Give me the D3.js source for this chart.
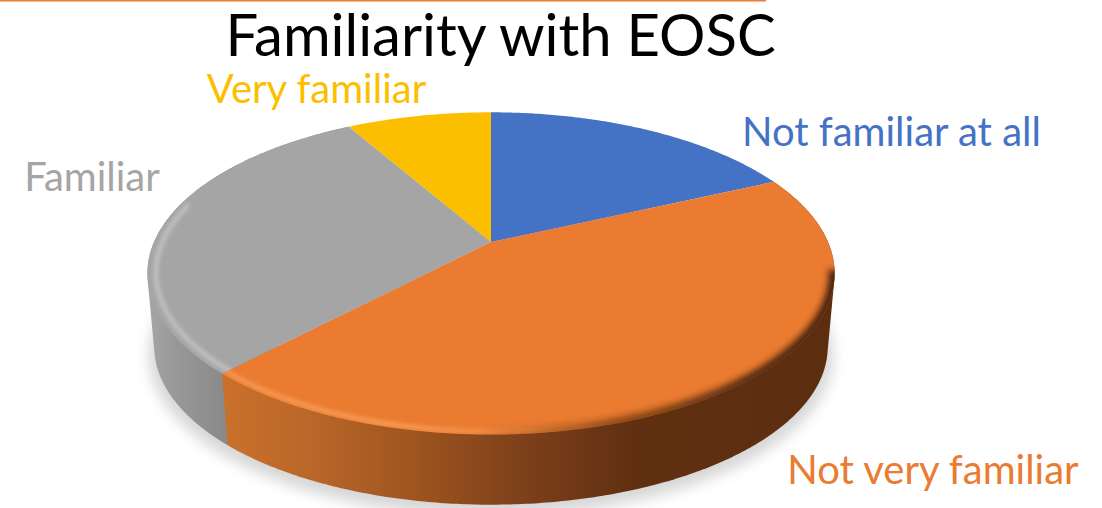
<!DOCTYPE html>
<html>
<head>
<meta charset="utf-8">
<script src="https://cdnjs.cloudflare.com/ajax/libs/d3/7.8.5/d3.min.js"></script>
<style>
  html, body { margin: 0; padding: 0; background: #fff; overflow: hidden; }
  text { font-family: Lato, "Open Sans", sans-serif; }
</style>
</head>
<body>
<div id="chart"></div>
<script>
// Values (percent of answers)
var categories = ["Not familiar at all", "Not very familiar", "Familiar", "Very familiar"];
var shares = [18.1, 43.9, 29.8, 8.2];
var colors = ["#4472C4", "#EA7B30", "#A5A5A5", "#FCBF00"];
var chartTitle = "Familiarity with EOSC";

var svgWidth = 1102;
var svgHeight = 508;

// perspective disc: apex of the pie, radii and foreshortening
var cx = 491, cy = 242, rx = 337, ry = 155, persp = 0.195;
// bottom disc of the extruded pie
var depthY = 74, depthScale = 0.98;

var svg = d3.select("#chart")
  .append("svg")
  .attr("width", svgWidth)
  .attr("height", svgHeight)
  .style("display", "block");

var defs = svg.append("defs");

function blurFilter(id, dev) {
  defs.append("filter")
    .attr("id", id)
    .attr("x", "-20%").attr("y", "-20%")
    .attr("width", "140%").attr("height", "140%")
    .append("feGaussianBlur")
    .attr("stdDeviation", dev);
}
blurFilter("soft", 2);
blurFilter("softer", 3);
blurFilter("shadowBlur", 7);

function gradient(id, x1, x2, stops) {
  var g = defs.append("linearGradient")
    .attr("id", id)
    .attr("gradientUnits", "userSpaceOnUse")
    .attr("x1", x1).attr("x2", x2)
    .attr("y1", 0).attr("y2", 0);
  stops.forEach(function (s) {
    g.append("stop")
      .attr("offset", s[0])
      .attr("stop-color", s[1])
      .attr("stop-opacity", s[2] === undefined ? 1 : s[2]);
  });
}

gradient("sideOrange", 225, 835, [
  [0, "#C9702B"], [0.15, "#B9662A"], [0.3, "#A0561F"], [0.5, "#7B3F1A"], [0.68, "#5F2F10"], [1, "#5C2E0F"]
]);
gradient("sideGray", 147, 230, [[0, "#A6A6A6"], [0.35, "#989898"], [1, "#888888"]]);
gradient("rimLight", 225, 720, [[0, "#F9A15C", 0.9], [0.35, "#FBA25E", 1], [0.6, "#F59A55", 0.5], [0.8, "#F59A55", 0]]);
gradient("rimDark", 480, 835, [[0, "#3E1E08", 0], [0.35, "#4A2409", 0.5], [0.75, "#40200A", 0.85], [1, "#3E1E08", 0.95]]);

// angle around the pie (0 = far side, clockwise) to screen position
function project(a, scale, dy) {
  var u = Math.sin(a), v = -Math.cos(a);
  var s = 1 / (1 - persp * v);
  return [cx + scale * rx * u * s, cy + dy + scale * ry * v * s];
}

function arcPoints(a0, a1, scale, dy) {
  var n = Math.max(2, Math.ceil(Math.abs(a1 - a0) / 0.01));
  return d3.range(n + 1).map(function (i) {
    return project(a0 + (a1 - a0) * i / n, scale, dy);
  });
}

var line = d3.line();
var slices = d3.pie().sort(null).value(function (d) { return d; })(shares);
var plot = svg.append("g");

// thin orange rule along the top edge
plot.append("rect")
  .attr("x", 0).attr("y", 0)
  .attr("width", 766).attr("height", 1.5)
  .attr("fill", "#ED7D31");

// soft shadow under the pie
plot.append("path")
  .attr("d", line(arcPoints(0, 2 * Math.PI, 0.995, depthY + 8)) + "Z")
  .attr("fill", "#D6D6D6")
  .attr("filter", "url(#shadowBlur)");

// outer walls, hull of the top and bottom arcs so the silhouette stays tangent
// gray goes first, orange sits in front of it at the seam
var wallFill = { 1: "url(#sideOrange)", 2: "url(#sideGray)" };
plot.selectAll("path.wall")
  .data([slices[2], slices[1]])
  .enter()
  .append("path")
  .attr("class", "wall")
  .attr("d", function (d) {
    var top = arcPoints(d.startAngle, d.endAngle, 1, 0);
    var bottom = arcPoints(d.startAngle, d.endAngle, depthScale, depthY);
    return line(d3.polygonHull(top.concat(bottom))) + "Z";
  })
  .attr("fill", function (d) { return wallFill[d.index]; });

// top face
plot.selectAll("path.slice")
  .data(slices)
  .enter()
  .append("path")
  .attr("class", "slice")
  .attr("d", function (d) {
    return line([[cx, cy]].concat(arcPoints(d.startAngle, d.endAngle, 1, 0))) + "Z";
  })
  .attr("fill", function (d) { return colors[d.index]; });

// rounded rim, clipped per slice
slices.forEach(function (d) {
  defs.append("clipPath")
    .attr("id", "clip" + d.index)
    .append("path")
    .attr("d", line([[cx, cy]].concat(arcPoints(d.startAngle, d.endAngle, 1, 0))) + "Z");
});

function rim(d, a0, a1, scale, width, stroke, filter) {
  plot.append("g")
    .attr("clip-path", "url(#clip" + d.index + ")")
    .append("path")
    .attr("d", line(arcPoints(a0, a1, scale, 0)))
    .attr("fill", "none")
    .attr("stroke", stroke)
    .attr("stroke-width", width)
    .attr("filter", filter);
}

var deg = Math.PI / 180;
rim(slices[2], slices[2].startAngle - 0.05, 285 * deg, 0.975, 4, "#C6C6C6", "url(#soft)");
rim(slices[1], slices[1].endAngle + 0.05, 130 * deg, 0.983, 4, "url(#rimLight)", "url(#soft)");
rim(slices[1], 100 * deg, slices[1].endAngle, 1.0, 12, "url(#rimDark)", "url(#softer)");

// title and slice labels
svg.append("text")
  .attr("x", 500.5)
  .attr("y", 56)
  .attr("text-anchor", "middle")
  .attr("font-size", 58)
  .attr("fill", "#000")
  .text(chartTitle);

var labelAt = [[891.5, 146], [933, 484], [92, 191], [316.5, 103]];
svg.selectAll("text.label")
  .data(categories)
  .enter()
  .append("text")
  .attr("class", "label")
  .attr("x", function (d, i) { return labelAt[i][0]; })
  .attr("y", function (d, i) { return labelAt[i][1]; })
  .attr("text-anchor", "middle")
  .attr("font-size", 40)
  .attr("fill", function (d, i) { return colors[i]; })
  .text(function (d) { return d; });
</script>
</body>
</html>
